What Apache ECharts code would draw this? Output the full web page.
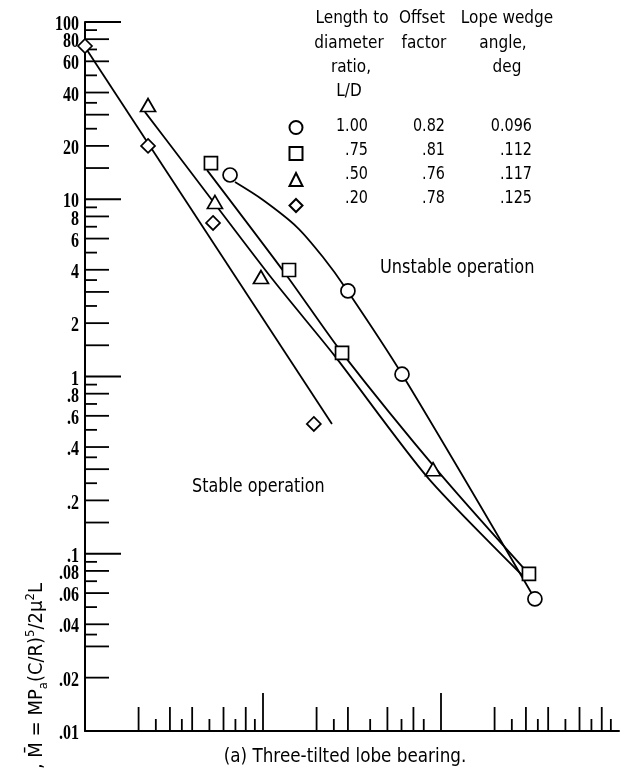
<!DOCTYPE html>
<html>
<head>
<meta charset="utf-8">
<script src="https://cdn.jsdelivr.net/npm/echarts@6/dist/echarts.min.js"></script>
<style>
  html, body { margin: 0; padding: 0; background: #fff; }
  #chart { width: 622px; height: 768px; }
</style>
</head>
<body>
<div id="chart"></div>
<script>
// Three-tilted lobe bearing: stability boundary on log-log axes.

// Bearing geometries (legend table)
const ldRatio = ['1.00', '.75', '.50', '.20'];
const offsetFactor = ['0.82', '.81', '.76', '.78'];
const wedgeAngle = ['0.096', '.112', '.117', '.125'];

// Measured points [x, M-bar]
const circlePts = [[6.53, 13.7], [30.0, 3.04], [60.4, 1.03], [337, 0.0556]];
const squarePts = [[5.10, 16.0], [14.0, 3.99], [27.8, 1.36], [312, 0.0769]];
const trianglePts = [[2.26, 34.0], [5.37, 9.65], [9.74, 3.64], [90.2, 0.30]];
const diamondPts = [[1.0, 73.2], [2.26, 20.0], [5.24, 7.35], [19.3, 0.54]];

// Faired curves through each set
const circleFit = [[6.96, 12.5], [10.0, 9.90], [15.5, 6.97], [21.7, 4.72], [29.6, 3.08], [60.4, 1.03], [337, 0.0556]];
const squareFit = [[4.85, 14.6], [13.7, 3.67], [27.8, 1.36], [98.5, 0.284], [308, 0.0779]];
const triangleFit = [[2.17, 31.1], [3.42, 17.1], [11.4, 3.50], [25.1, 1.32], [84.5, 0.268], [289, 0.0749]];
const diamondFit = [[1.0, 72.3], [24.4, 0.54]];

// Axis ticks
const yMajorTicks = [0.1, 1, 10, 100];
const yMidTicks = [80, 60, 40, 30, 20, 15, 8, 6, 4, 3, 2, 1.5, 0.8, 0.6, 0.4, 0.3, 0.2, 0.15, 0.08, 0.06, 0.04, 0.03, 0.02];
const yMinorTicks = [90, 70, 50, 35, 25, 9, 7, 5, 3.5, 2.5, 0.9, 0.7, 0.5, 0.35, 0.25, 0.09, 0.07, 0.05, 0.035];
const yLabelValues = [100, 80, 60, 40, 20, 10, 8, 6, 4, 2, 1, 0.8, 0.6, 0.4, 0.2, 0.1, 0.08, 0.06, 0.04, 0.02, 0.01];
const yLabelTexts = ['100', '80', '60', '40', '20', '10', '8', '6', '4', '2', '1', '.8', '.6', '.4', '.2', '.1', '.08', '.06', '.04', '.02', '.01'];
const xMajorTicks = [10, 100];
const xMidTicks = [2, 3, 4, 6, 8, 20, 30, 50, 70, 200, 300, 400, 600, 800];
const xMinorTicks = [2.5, 3.5, 5, 7, 9, 25, 40, 60, 80, 250, 350, 500, 700, 900];

const X_MIN = 1, X_MAX = 1000, Y_MIN = 0.01, Y_MAX = 100;
const INK = '#000';
const SANS = "'DejaVu Sans', sans-serif";
const SERIF = "'Liberation Serif', 'DejaVu Serif', serif";

function tickSeries(values, dir, len) {
  return {
    type: 'custom',
    coordinateSystem: 'cartesian2d',
    silent: true,
    z: 2,
    data: values.map(v => (dir === 'y' ? [X_MIN, v] : [v, Y_MIN])),
    renderItem: (params, api) => {
      const p = api.coord([api.value(0), api.value(1)]);
      const shape = dir === 'y'
        ? { x1: p[0], y1: p[1], x2: p[0] + len, y2: p[1] }
        : { x1: p[0], y1: p[1], x2: p[0], y2: p[1] - len };
      return { type: 'line', shape, style: { stroke: INK, lineWidth: 1.8 } };
    }
  };
}

const yLabelSeries = {
  type: 'custom',
  coordinateSystem: 'cartesian2d',
  silent: true,
  z: 2,
  data: yLabelValues.map(v => [X_MIN, v]),
  renderItem: (params, api) => {
    const p = api.coord([api.value(0), api.value(1)]);
    return {
      type: 'text',
      x: p[0] - 6,
      y: p[1] + 3,
      scaleX: 0.8,
      style: {
        text: yLabelTexts[params.dataIndex],
        font: 'bold 20px ' + SERIF,
        fill: INK,
        align: 'right', verticalAlign: 'middle',
        textAlign: 'right', textVerticalAlign: 'middle'
      }
    };
  }
};

function fitSeries(name, pts, smooth) {
  return {
    name: name,
    type: 'line',
    data: pts,
    smooth: smooth,
    symbol: 'none',
    silent: true,
    z: 3,
    lineStyle: { color: INK, width: 1.8 }
  };
}

function pointSeries(name, pts, symbol, size) {
  return {
    name: name,
    type: 'scatter',
    data: pts,
    symbol: symbol,
    symbolSize: size,
    silent: true,
    z: 5,
    itemStyle: { color: '#fff', borderColor: INK, borderWidth: 1.7, opacity: 1 }
  };
}

function label(text, x, y, align, size, sx) {
  return {
    type: 'text', x: x, y: y, scaleX: sx, silent: true, z: 10,
    style: {
      text: text, font: size + 'px ' + SANS, fill: INK,
      align: align, verticalAlign: 'middle',
      textAlign: align, textVerticalAlign: 'middle'
    }
  };
}

const rowY = [126.5, 150.5, 174.5, 198.5];
const tableText = [
  label('Length to', 352, 18, 'center', 18, 0.85),
  label('diameter', 349, 43, 'center', 18, 0.85),
  label('ratio,', 351, 67, 'center', 18, 0.85),
  label('L/D', 349, 91, 'center', 18, 0.85),
  label('Offset', 422, 18, 'center', 18, 0.85),
  label('factor', 424, 43, 'center', 18, 0.85),
  label('Lope wedge', 507, 18, 'center', 18, 0.85),
  label('angle,', 503, 43, 'center', 18, 0.85),
  label('deg', 507, 67, 'center', 18, 0.85)
];
ldRatio.forEach((t, i) => tableText.push(label(t, 368, rowY[i], 'right', 18, 0.8)));
offsetFactor.forEach((t, i) => tableText.push(label(t, 445, rowY[i], 'right', 18, 0.8)));
wedgeAngle.forEach((t, i) => tableText.push(label(t, 532, rowY[i], 'right', 18, 0.8)));

const chart = echarts.init(document.getElementById('chart'), null, { renderer: 'canvas' });

chart.setOption({
  backgroundColor: '#fff',
  animation: false,
  grid: { left: 85, top: 22, right: 3, bottom: 37, containLabel: false },
  xAxis: {
    type: 'log', logBase: 10, min: X_MIN, max: X_MAX,
    axisLine: { show: true, onZero: false, lineStyle: { color: INK, width: 2 } },
    axisTick: { show: false }, axisLabel: { show: false },
    splitLine: { show: false }, minorTick: { show: false }
  },
  yAxis: {
    type: 'log', logBase: 10, min: Y_MIN, max: Y_MAX,
    axisLine: { show: true, onZero: false, lineStyle: { color: INK, width: 2 } },
    axisTick: { show: false }, axisLabel: { show: false },
    splitLine: { show: false }, minorTick: { show: false }
  },
  legend: {
    data: ldRatio.slice(),
    orient: 'vertical',
    left: 288.5, top: 120,
    itemWidth: 13, itemHeight: 13, itemGap: 11,
    padding: 0,
    selectedMode: false,
    formatter: () => '',
    textStyle: { fontSize: 8 }
  },
  graphic: [
    ...tableText,
    label('Unstable operation', 380, 268, 'left', 20, 0.81),
    label('Stable operation', 192, 487, 'left', 20, 0.8),
    label('(a) Three-tilted lobe bearing.', 345, 757, 'center', 20, 0.84),
    {
      type: 'text', x: 37, y: 583, rotation: Math.PI / 2, scaleX: 0.9, silent: true, z: 10,
      style: {
        text: 'Moment parameter, M\u0304 = MP{sb|a}(C/R){sp|5}/2\u03bc{sp|2}L',
        font: '20px ' + SANS, fill: INK, lineHeight: 26,
        align: 'right', verticalAlign: 'middle',
        textAlign: 'right', textVerticalAlign: 'middle',
        rich: {
          sp: { fontSize: 13, fontFamily: 'DejaVu Sans', lineHeight: 13, verticalAlign: 'top' },
          sb: { fontSize: 13, fontFamily: 'DejaVu Sans', lineHeight: 13, verticalAlign: 'bottom' }
        }
      }
    }
  ],
  series: [
    tickSeries(yMajorTicks, 'y', 36),
    tickSeries(yMidTicks, 'y', 24),
    tickSeries(yMinorTicks, 'y', 12),
    tickSeries(xMajorTicks, 'x', 38),
    tickSeries(xMidTicks, 'x', 24),
    tickSeries(xMinorTicks, 'x', 12),
    yLabelSeries,
    fitSeries('fit ' + ldRatio[0], circleFit, 0.3),
    fitSeries('fit ' + ldRatio[1], squareFit, 0.25),
    fitSeries('fit ' + ldRatio[2], triangleFit, 0.25),
    fitSeries('fit ' + ldRatio[3], diamondFit, false),
    pointSeries(ldRatio[0], circlePts, 'circle', 14),
    pointSeries(ldRatio[1], squarePts, 'rect', 13),
    pointSeries(ldRatio[2], trianglePts, 'triangle', [15, 13]),
    pointSeries(ldRatio[3], diamondPts, 'diamond', 14)
  ]
});
</script>
</body>
</html>
